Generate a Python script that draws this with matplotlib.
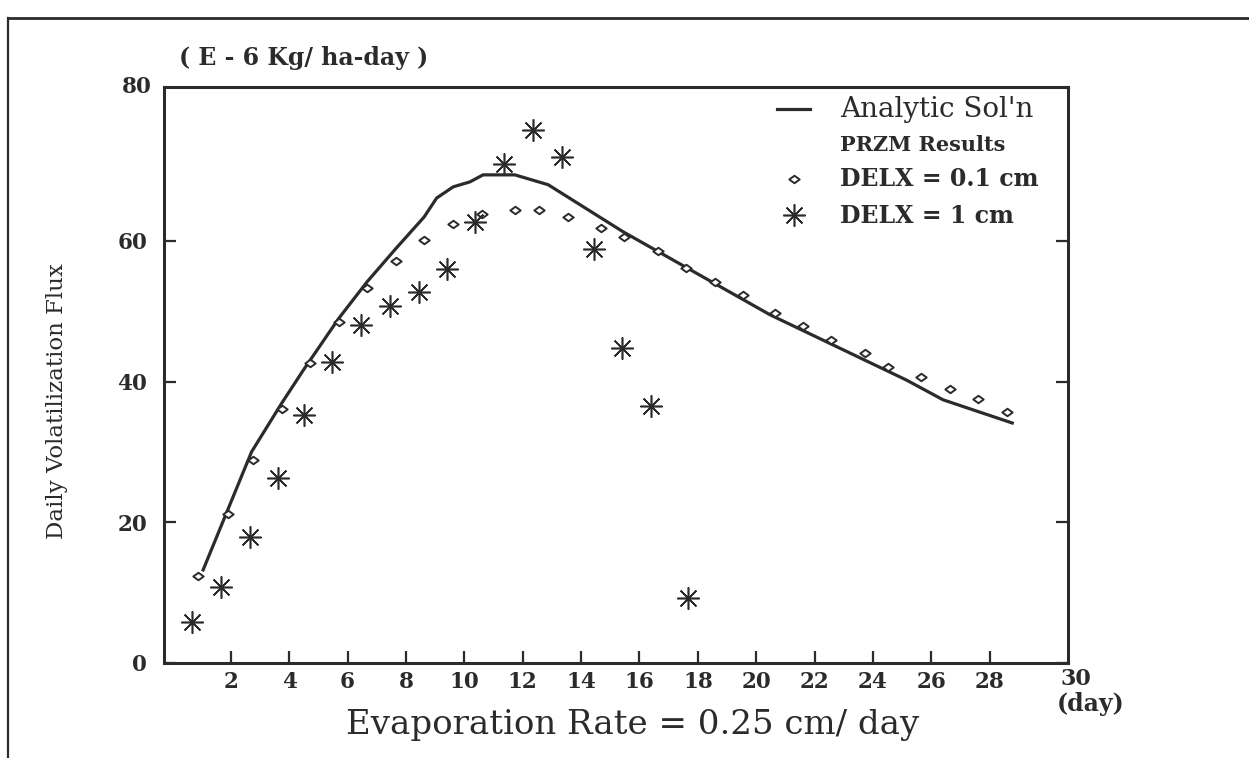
import matplotlib
matplotlib.use("Agg")
import matplotlib.pyplot as plt
from matplotlib.lines import Line2D
from matplotlib.path import Path

# ---------------- data ----------------
analytic_day = [1.05, 1.85, 2.71, 3.74, 4.48, 5.70, 6.67, 7.65, 8.62, 9.05,
                9.62, 10.19, 10.64, 11.73, 12.87, 15.44, 20.47, 25.15, 26.40, 28.77]
analytic_flux = [13.2, 21.3, 30.0, 36.9, 41.6, 49.0, 54.2, 58.9, 63.4, 66.1,
                 67.7, 68.4, 69.4, 69.4, 68.0, 61.3, 49.5, 40.2, 37.4, 34.1]

delx01_day = [0.88, 1.89, 2.76, 3.76, 4.71, 5.70, 6.67, 7.65, 8.62, 9.61,
              10.59, 11.73, 12.56, 13.54, 14.68, 15.47, 16.65, 17.61, 18.58, 19.55,
              20.64, 21.61, 22.56, 23.73, 24.50, 25.66, 26.63, 27.60, 28.60]
delx01_flux = [12.4, 21.1, 28.9, 36.1, 42.6, 48.4, 53.3, 57.2, 60.1, 62.4,
               63.9, 64.4, 64.4, 63.4, 61.9, 60.5, 58.6, 56.2, 54.2, 52.3,
               49.8, 47.9, 45.9, 44.0, 42.1, 40.6, 39.0, 37.5, 35.6]

delx1_day = [0.67, 1.66, 2.65, 3.62, 4.51, 5.48, 6.46, 7.45, 8.43, 9.41,
             10.36, 11.35, 12.34, 13.33, 14.44, 15.41, 16.38, 17.67]
delx1_flux = [5.8, 10.7, 17.9, 26.3, 35.3, 42.8, 48.1, 50.7, 52.7, 56.0,
              62.7, 71.0, 75.8, 71.9, 58.9, 44.7, 36.5, 9.2]

x_ticks = [2, 4, 6, 8, 10, 12, 14, 16, 18, 20, 22, 24, 26, 28]
y_ticks = [0, 20, 40, 60]

legend_labels = ["Analytic Sol'n", "PRZM Results", "DELX = 0.1 cm", "DELX = 1 cm"]
x_title = "Evaporation Rate = 0.25 cm/ day"
y_title = "Daily Volatilization Flux"
unit_note = "( E - 6 Kg/ ha-day )"

# ---------------- styling ----------------
plt.rcParams["font.family"] = ["DejaVu Serif"]
INK = "#2b2b2b"
W, H = 1249, 758

diamond = Path([(-1, 0), (0, 0.72), (1, 0), (0, -0.72), (-1, 0)],
               [Path.MOVETO, Path.LINETO, Path.LINETO, Path.LINETO, Path.CLOSEPOLY])
star = (8, 2, 0)

fig = plt.figure(figsize=(W / 100, H / 100), dpi=100)
fig.patch.set_facecolor("white")

ax_l, ax_r, ax_t, ax_b = 164, 1068, 87, 662.7
ax = fig.add_axes([ax_l / W, 1 - ax_b / H, (ax_r - ax_l) / W, (ax_b - ax_t) / H])

ax.plot(analytic_day, analytic_flux, color=INK, lw=2.3, solid_joinstyle="round")
ax.plot(delx01_day, delx01_flux, ls="none", marker=diamond, ms=7.5, mfc="white",
        mec=INK, mew=1.4)
ax.plot(delx1_day, delx1_flux, ls="none", marker=star, ms=16, mec=INK, mew=1.15)

ax.set_xlim(-0.29, 30.68)
ax.set_ylim(0, 81.9)

ax.set_xticks(x_ticks)
ax.set_yticks(y_ticks)
ax.tick_params(axis="x", direction="in", length=8.5, width=1.6, pad=6,
               labelsize=15.5, colors=INK)
ax.tick_params(axis="y", direction="in", length=8.5, width=1.6, pad=12,
               labelsize=15.5, colors=INK, left=True, right=True)
for lab in ax.get_xticklabels() + ax.get_yticklabels():
    lab.set_fontweight("bold")
for s in ax.spines.values():
    s.set_linewidth(2.2)
    s.set_color(INK)

# corner labels of the hand-drawn frame
ax.annotate("80", xy=(0, 1), xycoords="axes fraction", xytext=(-12, 0),
            textcoords="offset pixels", ha="right", va="center",
            fontsize=15.5, fontweight="bold", color=INK)
ax.annotate("30", xy=(1, 0), xycoords="axes fraction", xytext=(-8, -16),
            textcoords="offset pixels", ha="left", va="center",
            fontsize=16, fontweight="bold", color=INK)
ax.annotate("(day)", xy=(1, 0), xycoords="axes fraction", xytext=(-11, -41),
            textcoords="offset pixels", ha="left", va="center",
            fontsize=17, fontweight="bold", color=INK)

ax.set_xlabel(x_title, fontsize=24.5, color=INK)
ax.xaxis.set_label_coords((632.5 - ax_l) / (ax_r - ax_l), (ax_b - 725) / (ax_b - ax_t))
ax.xaxis.label.set_va("center")
ax.set_ylabel(y_title, fontsize=16.5, color=INK)
ax.yaxis.set_label_coords((57 - ax_l) / (ax_r - ax_l), (ax_b - 401) / (ax_b - ax_t))
ax.yaxis.label.set_va("center")

fig.text(179 / W, 1 - 58 / H, unit_note, ha="left", va="center",
         fontsize=17, fontweight="bold", color=INK)

# legend
handles = [Line2D([], [], color=INK, lw=2.3),
           Line2D([], [], ls="none"),
           Line2D([], [], ls="none", marker=diamond, ms=7.5, mfc="white", mec=INK, mew=1.4),
           Line2D([], [], ls="none", marker=star, ms=16, mec=INK, mew=1.15)]
leg = ax.legend(handles, legend_labels, loc="upper left",
                bbox_to_anchor=(777 / W, 1 - 96 / H), bbox_transform=fig.transFigure,
                frameon=False, fontsize=16, handlelength=1.5, handletextpad=1.35,
                borderpad=0, borderaxespad=0, labelspacing=0.55)
texts = leg.get_texts()
texts[0].set_fontsize(20)
texts[1].set_fontsize(15)
texts[1].set_fontweight("bold")
texts[2].set_fontsize(17)
texts[2].set_fontweight("bold")
texts[3].set_fontsize(17)
texts[3].set_fontweight("bold")
for t in texts:
    t.set_color(INK)

# page border of the scanned figure
fig.add_artist(Line2D([8 / W, 8 / W], [0, 1 - 18 / H], transform=fig.transFigure,
                      color=INK, lw=1.6))
fig.add_artist(Line2D([8 / W, 1], [1 - 18 / H, 1 - 18 / H], transform=fig.transFigure,
                      color=INK, lw=2.0))

fig.savefig("out.png", dpi=100, facecolor="white")
